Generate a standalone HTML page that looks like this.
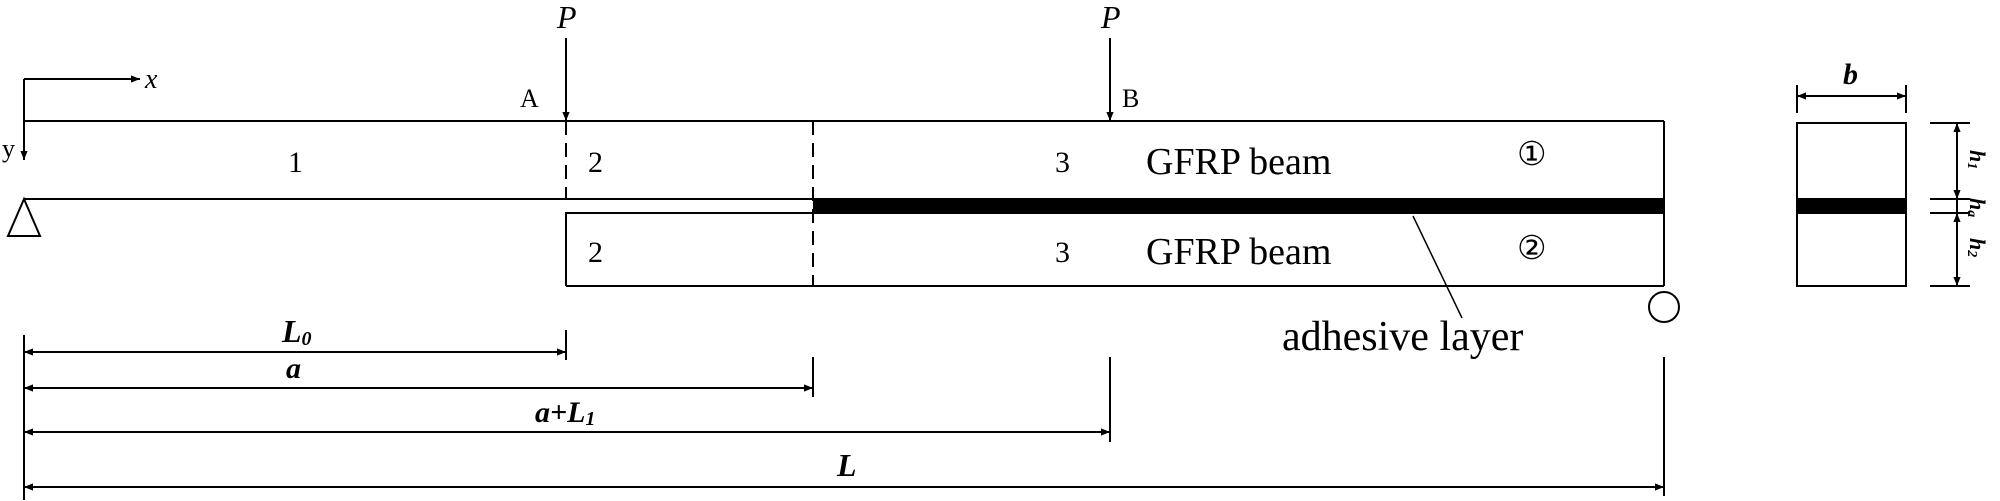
<!DOCTYPE html>
<html><head><style>body{margin:0;background:#fff}svg{display:block}</style></head><body>
<svg width="2000" height="501" viewBox="0 0 2000 501" xmlns="http://www.w3.org/2000/svg" font-family="Liberation Serif, serif">
<defs>
<marker id="ah" viewBox="0 0 10 10" refX="10" refY="5" markerWidth="18" markerHeight="9" markerUnits="userSpaceOnUse" orient="auto-start-reverse"><path d="M0,1 L10,5 L0,9 z" fill="#000"/></marker>
</defs>
<g stroke="#000" stroke-width="2" fill="none">
<line x1="24" y1="79" x2="140" y2="79" marker-end="url(#ah)"/>
<line x1="24" y1="79" x2="24" y2="160" marker-end="url(#ah)"/>
<line x1="24" y1="121" x2="1664" y2="121"/>
<line x1="24" y1="199" x2="813" y2="199"/>
<line x1="1664" y1="121" x2="1664" y2="286"/>
<polyline points="566,286 566,213 813,213"/>
<line x1="566" y1="286" x2="1664" y2="286"/>
<line x1="566" y1="121" x2="566" y2="199" stroke-dasharray="14,8"/>
<line x1="813" y1="121" x2="813" y2="286" stroke-dasharray="14,8"/>
<line x1="566" y1="38" x2="566" y2="121" marker-end="url(#ah)"/>
<line x1="1110" y1="38" x2="1110" y2="121" marker-end="url(#ah)"/>
<polygon points="24,199 8,236 40,236"/>
<circle cx="1664" cy="307" r="15"/>
<line x1="1413" y1="216" x2="1462" y2="318" stroke-width="1.5"/>
<line x1="24" y1="335" x2="24" y2="500"/>
<line x1="566" y1="330" x2="566" y2="360"/>
<line x1="813" y1="357" x2="813" y2="397"/>
<line x1="1110" y1="357" x2="1110" y2="442"/>
<line x1="1664" y1="357" x2="1664" y2="496"/>
<line x1="24" y1="352" x2="566" y2="352" marker-start="url(#ah)" marker-end="url(#ah)"/>
<line x1="24" y1="388" x2="813" y2="388" marker-start="url(#ah)" marker-end="url(#ah)"/>
<line x1="24" y1="432" x2="1110" y2="432" marker-start="url(#ah)" marker-end="url(#ah)"/>
<line x1="24" y1="487" x2="1664" y2="487" marker-start="url(#ah)" marker-end="url(#ah)"/>
<rect x="1797" y="123" width="109" height="163"/>
<line x1="1797" y1="85" x2="1797" y2="113"/>
<line x1="1906" y1="85" x2="1906" y2="113"/>
<line x1="1797" y1="96" x2="1906" y2="96" marker-start="url(#ah)" marker-end="url(#ah)"/>
<line x1="1930" y1="123" x2="1970" y2="123"/>
<line x1="1930" y1="199" x2="1970" y2="199"/>
<line x1="1930" y1="213" x2="1970" y2="213"/>
<line x1="1930" y1="286" x2="1970" y2="286"/>
<line x1="1957" y1="123" x2="1957" y2="199" marker-start="url(#ah)" marker-end="url(#ah)"/>
<line x1="1957" y1="213" x2="1957" y2="286" marker-start="url(#ah)" marker-end="url(#ah)"/>
<line x1="1957" y1="199" x2="1957" y2="213"/>
</g>
<rect x="813" y="198" width="851" height="16" fill="#000"/>
<rect x="1797" y="198" width="109" height="16" fill="#000"/>
<g fill="#000" font-size="30">
<text x="145" y="88" font-style="italic" font-size="28">x</text>
<text x="2" y="157" font-size="26">y</text>
<text x="520" y="107" font-size="26">A</text>
<text x="1122" y="107" font-size="26">B</text>
<text x="557" y="28" font-style="italic" font-size="32">P</text>
<text x="1101" y="28" font-style="italic" font-size="32">P</text>
<text x="288" y="172">1</text>
<text x="588" y="172">2</text>
<text x="588" y="262">2</text>
<text x="1055" y="172">3</text>
<text x="1055" y="262">3</text>
<text x="1146" y="174" font-size="38">GFRP beam</text>
<text x="1146" y="264" font-size="38">GFRP beam</text>
<text x="1517" y="165" font-size="33">①</text>
<text x="1517" y="259" font-size="33">②</text>
<text x="1282" y="350" font-size="42">adhesive layer</text>
<text x="282" y="342" font-size="32" font-style="italic" font-weight="bold">L<tspan font-size="20" dy="3">0</tspan></text>
<text x="286" y="378" font-size="30" font-style="italic" font-weight="bold">a</text>
<text x="535" y="422" font-size="30" font-style="italic" font-weight="bold">a+L<tspan font-size="20" dy="3">1</tspan></text>
<text x="837" y="476" font-size="32" font-style="italic" font-weight="bold">L</text>
<text x="1843" y="84" font-size="30" font-style="italic" font-weight="bold">b</text>
<g font-size="22" font-style="italic" font-weight="bold">
<text transform="translate(1970,150) rotate(90)">h<tspan font-size="14" dy="2">1</tspan></text>
<text transform="translate(1970,198) rotate(90)">h<tspan font-size="14" dy="2">a</tspan></text>
<text transform="translate(1970,238) rotate(90)">h<tspan font-size="14" dy="2">2</tspan></text>
</g>
</g>
</svg>
</body></html>
